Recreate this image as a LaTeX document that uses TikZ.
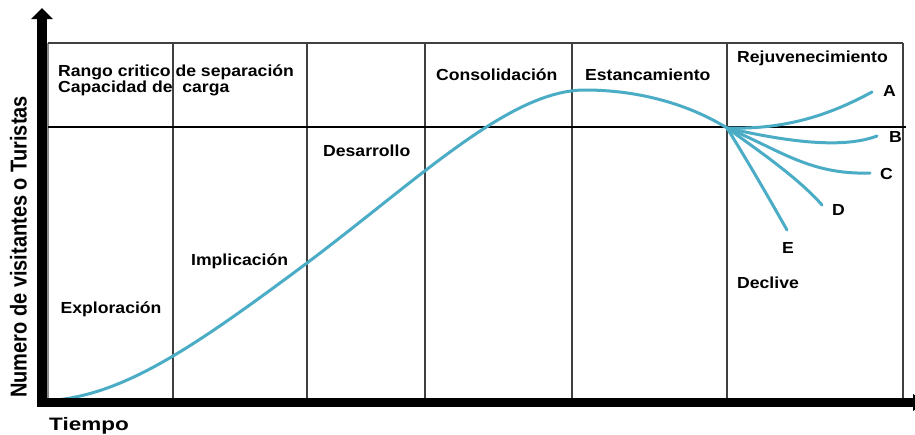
\documentclass[tikz,border=0pt]{standalone}
\usepackage{fontspec}
\newfontfamily\lblfont[FakeStretch=1.1]{Liberation Sans}
\newfontfamily\tiempofont[FakeStretch=1.25]{Liberation Sans}
\newfontfamily\axfont{Liberation Sans}
\definecolor{curvecol}{HTML}{4BACC6}
\begin{document}
\begin{tikzpicture}[x=1pt,y=-1pt,
  lbl/.style={inner sep=0pt, anchor=base west, font=\lblfont\bfseries\fontsize{16}{19}\selectfont},
  gridline/.style={draw=black!75, line width=1.4pt},
  curvestyle/.style={draw=curvecol, line width=3pt, line cap=round, line join=round}]
\useasboundingbox (0,0) rectangle (915,434);
\clip (0,0) rectangle (915,434);

% frame and stage separators
\draw[draw=black!45, line width=1.4pt] (48,43) -- (48,398);
\draw[gridline] (48,43) -- (903,43);
\foreach \xx in {173,307,425,572,727,903}
  \draw[gridline] (\xx,43) -- (\xx,398);
\draw[draw=black, line width=2pt] (48,127) -- (906,127);

% curve
\coordinate (start) at (43,401);
\coordinate (mid) at (307,263);
\coordinate (peak) at (585,90);
\coordinate (split) at (727,128);
\coordinate (endA) at (872,92);
\coordinate (endB) at (877,136);
\coordinate (endC) at (870,173);
\coordinate (endD) at (822,205);
\coordinate (endE) at (787,230);
\draw[curvestyle] (start) .. controls (120,398) and (190,350) .. (mid)
  .. controls (420,178) and (510,90) .. (peak)
  .. controls (640,90) and (690,105) .. (split);
\draw[curvestyle] (split) .. controls (790,130) and (835,112) .. (endA);
\draw[curvestyle] (split) .. controls (780,140) and (840,150) .. (endB);
\draw[curvestyle] (split) .. controls (780,150) and (810,175) .. (endC);
\draw[curvestyle] (split) .. controls (765,155) and (800,180) .. (endD);
\draw[curvestyle] (split) .. controls (750,165) and (770,200) .. (endE);

% axes
\fill[black] (36.5,19) rectangle (46.5,407);
\fill[black] (31,19) -- (42,8) -- (53,19) -- cycle;
\fill[black] (37,398) rectangle (913,407);
\fill[black] (913,394) -- (926,402.5) -- (913,411) -- cycle;

% labels
\node[lbl] (rango) at (58,76) {Rango critico de separación};
\node[lbl] (capacidad) at (58,92.5) {Capacidad de\ \ carga};
\node[lbl] (consol) at (436,80) {Consolidación};
\node[lbl] (estanc) at (585,80) {Estancamiento};
\node[lbl] (rejuv) at (737,62) {Rejuvenecimiento};
\node[lbl] (desarrollo) at (323,156) {Desarrollo};
\node[lbl] (implic) at (191,265) {Implicación};
\node[lbl] (explor) at (60.5,313) {Exploración};
\node[lbl] (declive) at (737,288) {Declive};
\node[lbl] (la) at (883,96) {A};
\node[lbl] (lb) at (889,142) {B};
\node[lbl] (lc) at (880,179) {C};
\node[lbl] (ld) at (832,215) {D};
\node[lbl] (le) at (782,253) {E};
\node[inner sep=0pt, anchor=base west, font=\tiempofont\bfseries\fontsize{18}{21}\selectfont] (tiempo) at (49,430) {Tiempo};
\node[inner sep=0pt, rotate=90, font=\axfont\bfseries\fontsize{20}{24}\selectfont] (ylabel) at (18.5,247) {\scalebox{1}[1.15]{Numero de visitantes o Turistas}};
\end{tikzpicture}
\end{document}
